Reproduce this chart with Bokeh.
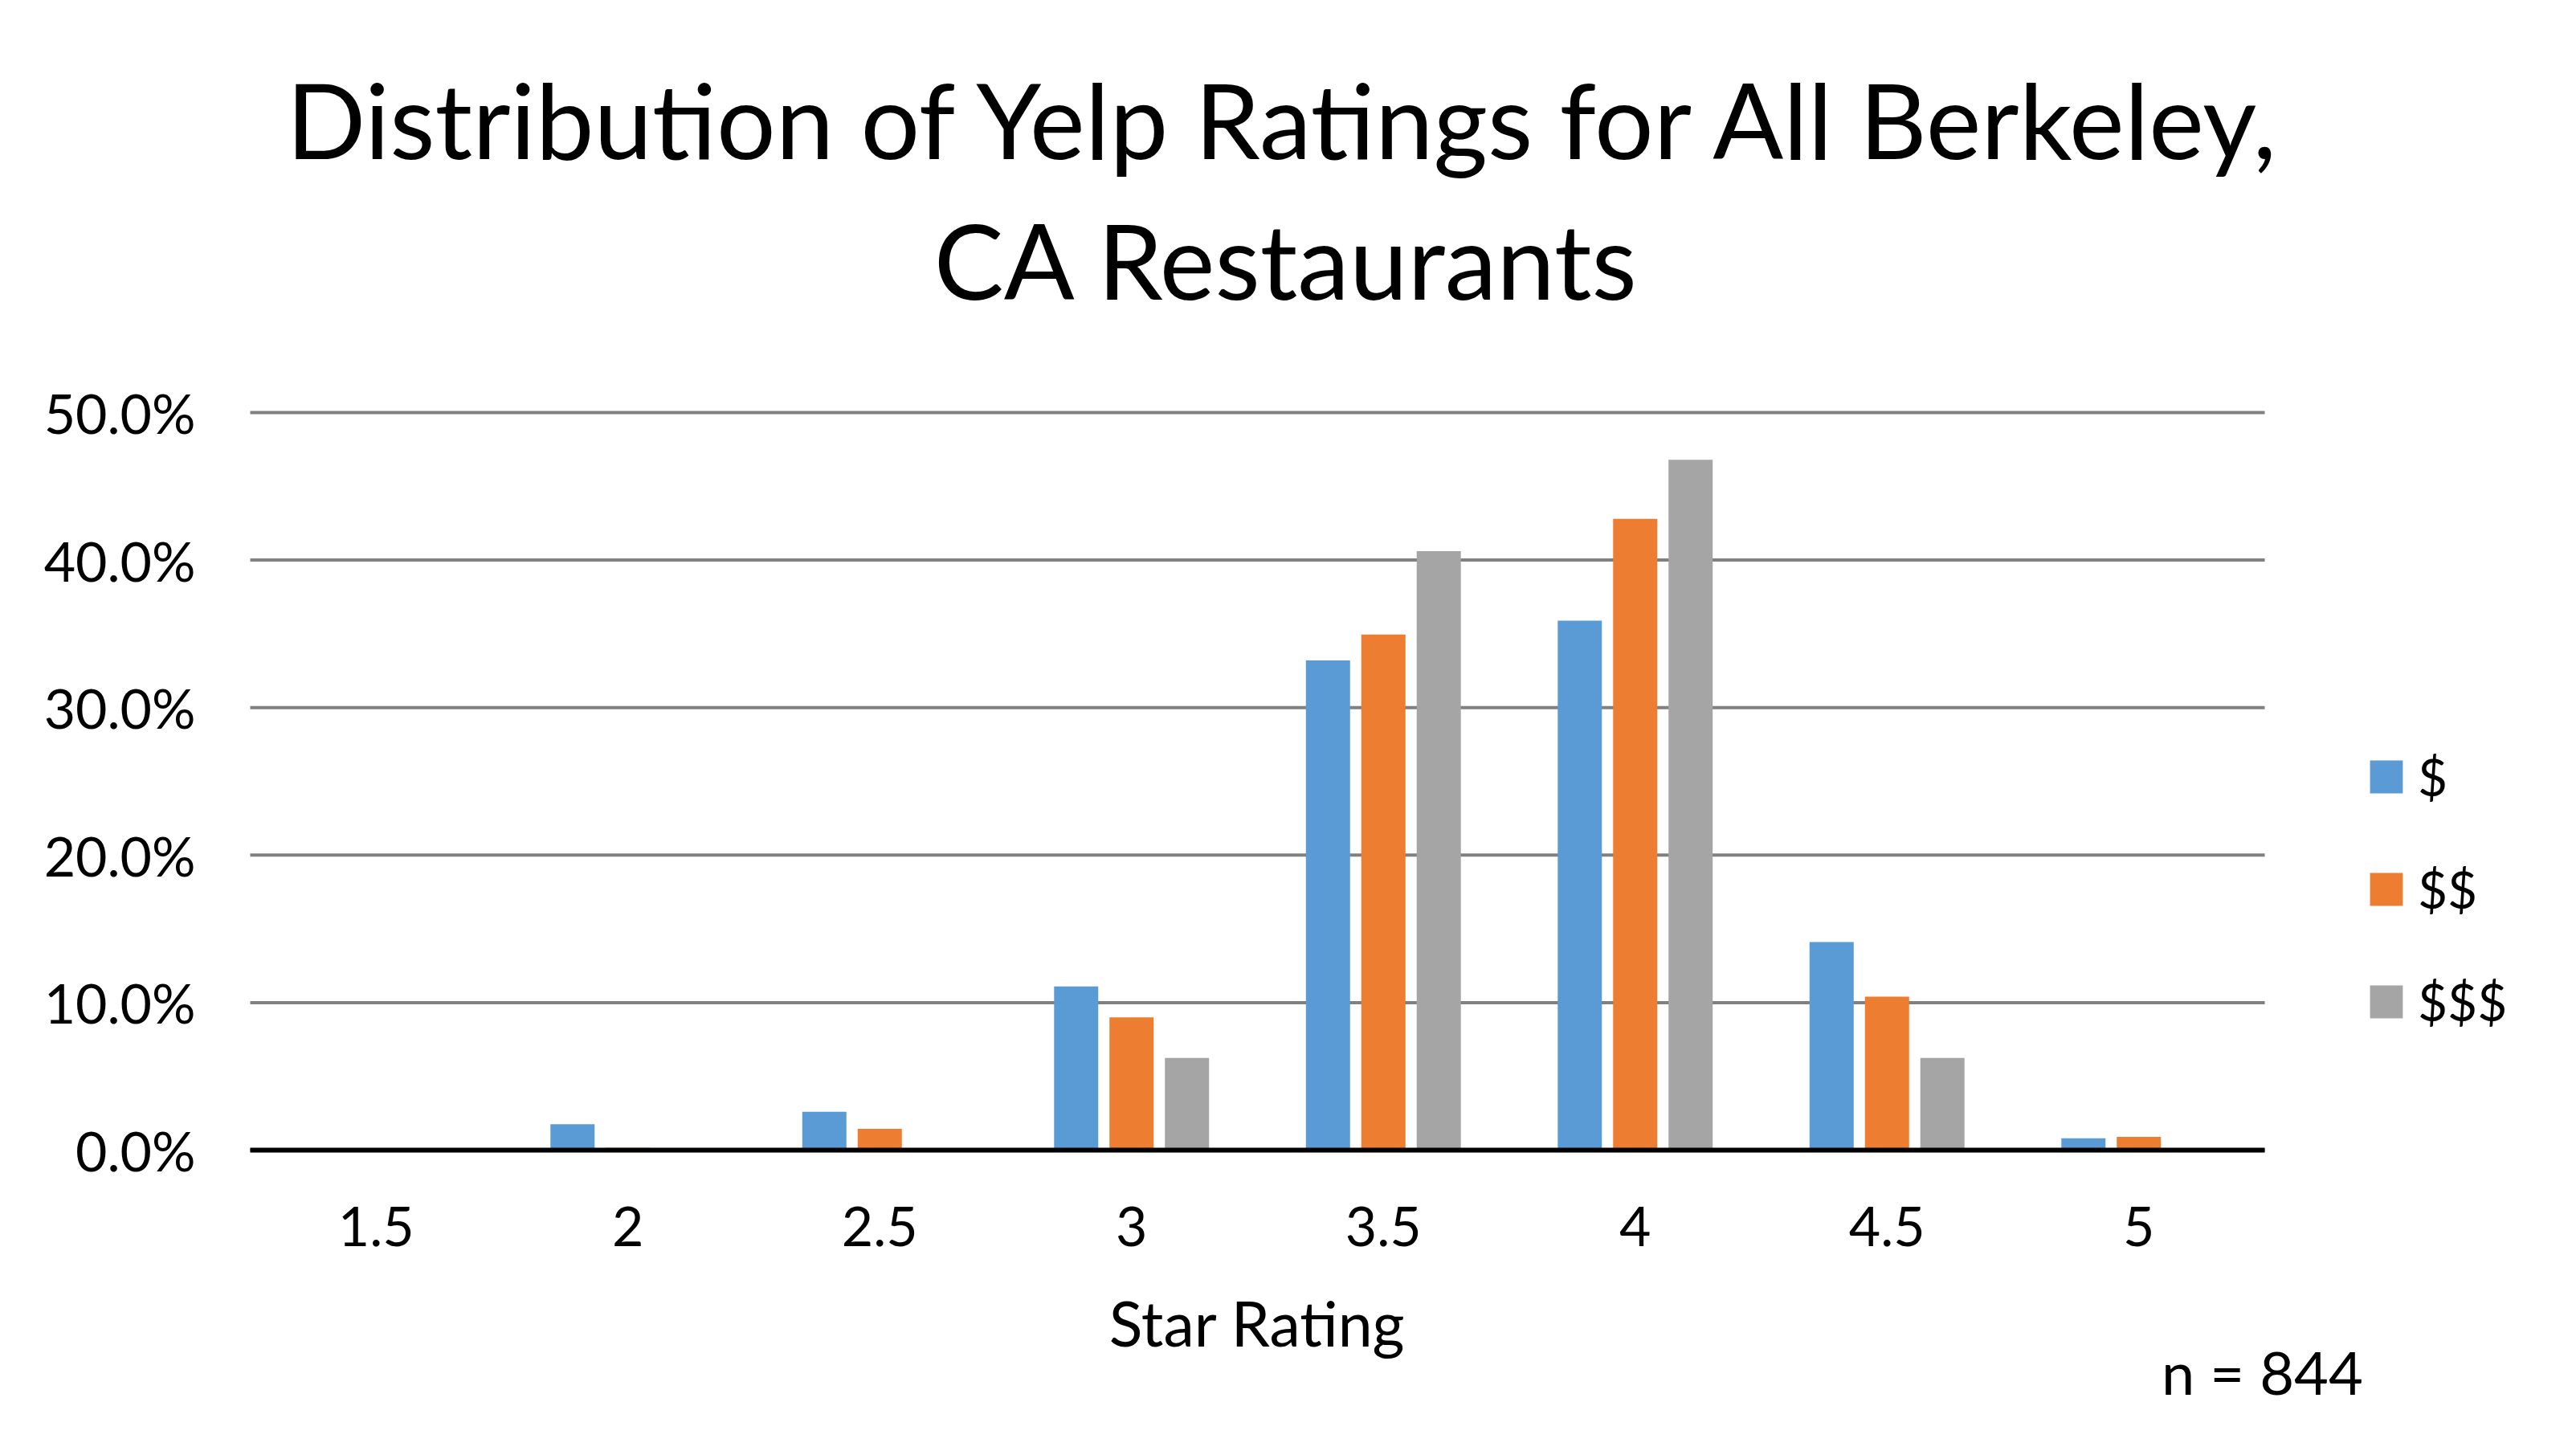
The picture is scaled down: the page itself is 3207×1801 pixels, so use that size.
from bokeh.plotting import figure
from bokeh.models import (Range1d, FixedTicker, NumeralTickFormatter, Label,
                          Legend, LegendItem, ColumnDataSource)
from bokeh.transform import dodge
from bokeh.embed import file_html
from bokeh.resources import INLINE

# ---- data ----
ratings = [1.5, 2.0, 2.5, 3.0, 3.5, 4.0, 4.5, 5.0]
pct_1 = [0.0, 0.0175, 0.026, 0.111, 0.332, 0.359, 0.141, 0.008]
pct_2 = [0.0, 0.0015, 0.0145, 0.090, 0.3495, 0.428, 0.104, 0.009]
pct_3 = [0.0, 0.0, 0.0, 0.0625, 0.406, 0.468, 0.0625, 0.0]
series_names = ["$", "$$", "$$$"]
y_ticks = [0.0, 0.1, 0.2, 0.3, 0.4, 0.5]
title_lines = ["Distribution of Yelp Ratings for All Berkeley,", "CA Restaurants"]
x_title = "Star Rating"
note = "n = 844"

colors = ["#5B9BD5", "#ED7D31", "#A5A5A5"]
FONT = "Lato"
W, H = 3190, 1784

# pixel geometry of the plot area (the axes are pinned inside one full-size frame)
PX_PER_X = 627.0          # pixels per star-rating unit
PX_PER_Y = 1836.0         # pixels per 100 %
LEFT_PX, BASE_PX = 311.0, 1431.0
half = 0.25               # half of a rating bin
x_lo = ratings[0] - half
x_hi = ratings[-1] + half

p = figure(width=W, height=H,
           x_range=Range1d(x_lo - LEFT_PX / PX_PER_X, x_lo + (W - LEFT_PX) / PX_PER_X),
           y_range=Range1d(-(H - BASE_PX) / PX_PER_Y, BASE_PX / PX_PER_Y),
           output_backend="svg", toolbar_location=None, min_border=0)
p.outline_line_color = None
p.background_fill_color = "white"
p.border_fill_color = "white"
p.xgrid.visible = False
p.ygrid.visible = False

# horizontal grid lines across the plot area only
p.segment(x0=[x_lo] * len(y_ticks), x1=[x_hi] * len(y_ticks), y0=y_ticks, y1=y_ticks,
          line_color="#808080", line_width=4)

src = ColumnDataSource(dict(r=ratings, s1=pct_1, s2=pct_2, s3=pct_3))
bar_step, bar_w = 0.11, 0.0877
renderers = []
for k, (key, col) in enumerate(zip(["s1", "s2", "s3"], colors)):
    r = p.vbar(x=dodge("r", (k - 1) * bar_step), top=key, bottom=0, width=bar_w,
               source=src, fill_color=col, line_color=None)
    renderers.append(r)

# axes pinned at x = first bin edge and y = 0
xa, ya = p.xaxis[0], p.yaxis[0]
xa.fixed_location = 0
ya.fixed_location = x_lo
xa.bounds = (x_lo, x_hi)
xa.ticker = FixedTicker(ticks=ratings)
xa.formatter = NumeralTickFormatter(format="0.[0]")
ya.ticker = FixedTicker(ticks=y_ticks)
ya.formatter = NumeralTickFormatter(format="0.0%")
for ax in (xa, ya):
    ax.major_tick_line_color = None
    ax.minor_tick_line_color = None
    ax.major_label_text_font = FONT
    ax.major_label_text_font_size = "68px"
    ax.major_label_text_color = "black"
ya.axis_line_color = None
ya.major_label_standoff = 62
xa.axis_line_color = "black"
xa.axis_line_width = 6
xa.major_label_standoff = 64
xa.axis_label = x_title
xa.axis_label_text_font = FONT
xa.axis_label_text_font_size = "77px"
xa.axis_label_text_font_style = "normal"
xa.axis_label_text_color = "black"
xa.axis_label_standoff = 46

# title (two lines), note
for txt, yy in zip(title_lines, [H - 147, H - 322]):
    p.add_layout(Label(x=1602, y=yy, x_units="screen", y_units="screen", text=txt,
                       text_align="center", text_baseline="alphabetic",
                       text_font=FONT, text_font_size="130px", text_color="black"))
p.add_layout(Label(x=2816, y=H - 1707, x_units="screen", y_units="screen", text=note,
                   text_align="center", text_baseline="alphabetic",
                   text_font=FONT, text_font_size="74px", text_color="black"))

legend = Legend(items=[LegendItem(label=n, renderers=[r]) for n, r in zip(series_names, renderers)],
                location=(2945, H - 1285), orientation="vertical",
                padding=0, margin=0, border_line_color=None, background_fill_alpha=0,
                glyph_width=51, glyph_height=51, label_standoff=14, spacing=63,
                label_text_font=FONT, label_text_font_size="64px",
                label_text_line_height=0.8, label_text_color="black")
p.add_layout(legend)

open("out.html", "w").write(file_html(p, INLINE))
